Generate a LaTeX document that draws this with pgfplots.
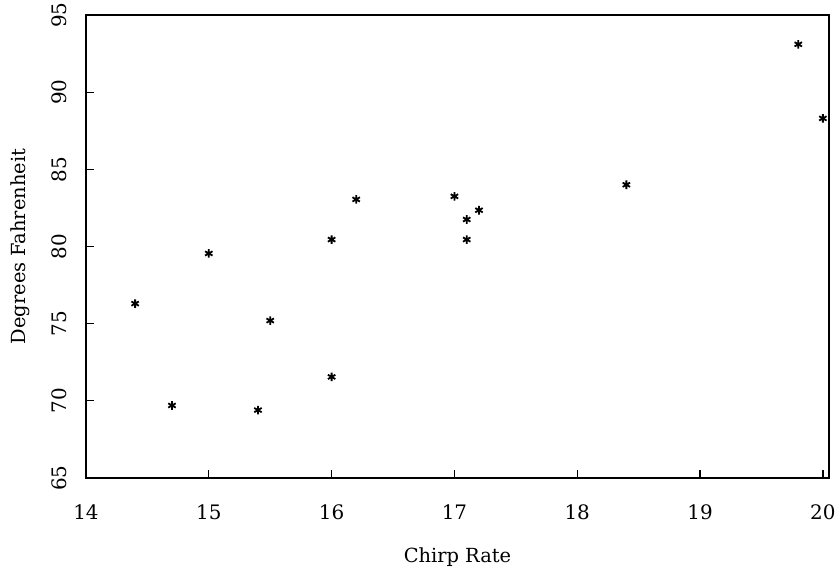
\documentclass[border=0pt]{standalone}
\usepackage{pgfplots}
\pgfplotsset{compat=1.18}
\usetikzlibrary{calc}
\usepackage{fontspec}
\setmainfont{DejaVu Serif}
\begin{document}
\begin{tikzpicture}
\begin{axis}[
  scale only axis,
  width=743bp, height=463bp,
  xmin=14, xmax=20.05, ymin=65, ymax=95,
  xtick={14,15,...,20}, ytick={65,70,...,95},
  tick align=inside,
  xtick pos=bottom, ytick pos=left,
  major tick length=8bp,
  axis line style={line width=1.3bp},
  every tick/.style={line width=1.3bp, black},
  /pgf/number format/assume math mode=true,
  tick label style={font=\fontsize{20}{24}\selectfont},
  label style={font=\fontsize{19.5}{24}\selectfont},
  xticklabel style={yshift=-23bp},
  yticklabel style={rotate=90, anchor=south, yshift=16bp},
  xlabel={Chirp Rate},
  ylabel={Degrees Fahrenheit},
  xlabel style={yshift=-21bp},
  ylabel style={yshift=15bp},
]
\addplot[only marks, mark=asterisk, mark size=4.3bp, mark options={line width=1.8bp, black}] coordinates {
(20.0,88.3) (16.0,71.55) (19.8,93.1) (18.4,84.0) (17.1,80.45)
(15.5,75.2) (14.7,69.7) (17.1,81.75) (15.4,69.4) (16.2,83.05)
(15.0,79.55) (17.2,82.35) (16.0,80.45) (17.0,83.25) (14.4,76.3)
};
\coordinate (ll) at (rel axis cs:0,0);
\coordinate (ur) at (rel axis cs:1,1);
\end{axis}
\pgfresetboundingbox
\path ($(ll)+(-86bp,-98bp)$) rectangle ($(ur)+(8bp,15bp)$);
\end{tikzpicture}
\end{document}
